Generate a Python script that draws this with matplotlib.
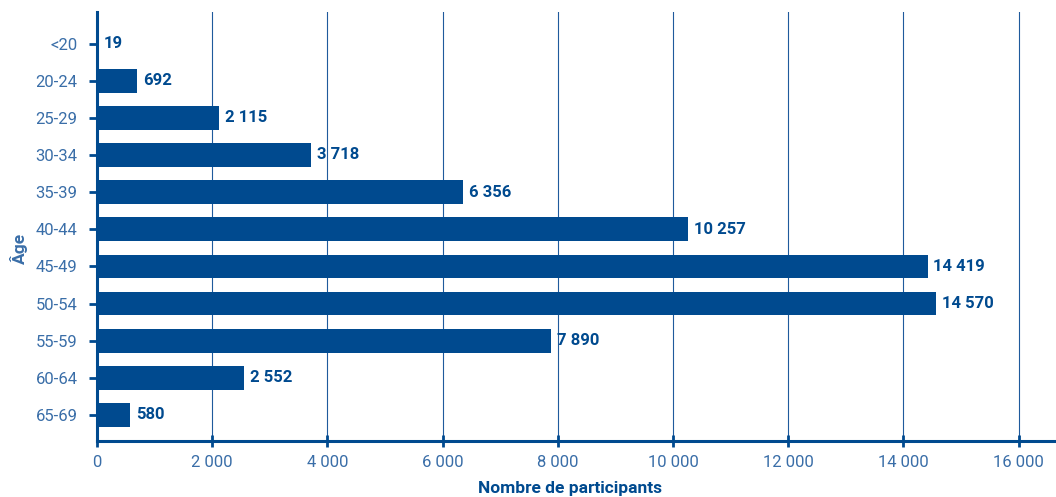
import matplotlib
matplotlib.use("Agg")
import matplotlib.pyplot as plt
from matplotlib.ticker import FuncFormatter

age_groups = ["<20", "20-24", "25-29", "30-34", "35-39", "40-44",
              "45-49", "50-54", "55-59", "60-64", "65-69"]
participants = [19, 692, 2115, 3718, 6356, 10257, 14419, 14570, 7890, 2552, 580]
x_ticks = [0, 2000, 4000, 6000, 8000, 10000, 12000, 14000, 16000]

bar_color = "#004a8f"
text_color = "#3a6ea8"
plt.rcParams["font.family"] = ["Roboto", "DejaVu Sans"]


def fmt(v, pos=None):
    return f"{int(v):,}".replace(",", " ")


fig = plt.figure(figsize=(10.56, 4.97), dpi=100)
ax = fig.add_axes([0.0919, 0.1127, 0.9081, 0.8633])

y = list(range(len(age_groups)))
ax.barh(y, participants, height=0.64, color=bar_color, zorder=3)
for yi, v in zip(y, participants):
    ax.text(v + 100, yi, fmt(v), va="center", ha="left", fontsize=12,
            fontweight="bold", color=bar_color, zorder=4)

ax.set_ylim(len(age_groups) - 0.3, -0.85)
ax.set_xlim(0, 16650)
ax.set_yticks(y)
ax.set_yticklabels(age_groups)
ax.set_xticks(x_ticks)
ax.xaxis.set_major_formatter(FuncFormatter(fmt))

ax.grid(axis="x", color="#1f5a9c", linewidth=0.8, zorder=0)
for side in ["top", "right"]:
    ax.spines[side].set_visible(False)
for side in ["left", "bottom"]:
    ax.spines[side].set_color(bar_color)
    ax.spines[side].set_linewidth(2.2)

ax.tick_params(axis="y", colors=bar_color, labelcolor=text_color,
               labelsize=12, length=6, width=2, pad=8)
ax.tick_params(axis="x", colors=bar_color, labelcolor=text_color,
               labelsize=12, direction="inout", length=8, width=2, pad=6)

fig.text(0.018, 0.5, "Âge", rotation=90, ha="center", va="center",
         color=text_color, fontsize=12.5, fontweight="bold")
fig.text(0.54, 0.018, "Nombre de participants", ha="center", va="center",
         color=bar_color, fontsize=12.5, fontweight="bold")

fig.savefig("out.png", dpi=100)
